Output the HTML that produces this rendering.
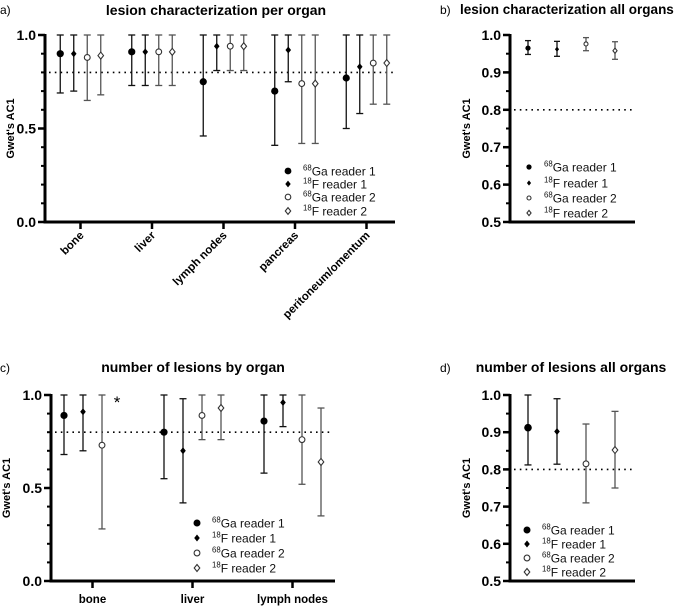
<!DOCTYPE html>
<html><head><meta charset="utf-8"><style>
body{margin:0;background:#fff;width:685px;height:608px;overflow:hidden}
svg{font-family:"Liberation Sans",Arial,sans-serif}
</style></head><body>
<svg id="s" width="685" height="608" viewBox="0 0 685 608" xmlns="http://www.w3.org/2000/svg"></svg>
<script>
// Panel a data
const catsA=["bone","liver","lymph nodes","pancreas","peritoneum/omentum"];
const valA=[[0.90,0.90,0.88,0.89],[0.91,0.91,0.91,0.91],[0.75,0.94,0.94,0.94],[0.70,0.92,0.74,0.74],[0.77,0.83,0.85,0.85]];
const loA=[[0.69,0.70,0.65,0.68],[0.73,0.73,0.73,0.73],[0.46,0.81,0.81,0.81],[0.41,0.75,0.42,0.42],[0.50,0.58,0.63,0.63]];
const hiA=[[1,1,1,1],[1,1,1,1],[1,1,1,1],[1,1,1,1],[1,1,1,1]];
// Panel b data
const valB=[0.965,0.962,0.976,0.958];
const loB=[0.948,0.943,0.958,0.935];
const hiB=[0.985,0.983,0.993,0.982];
// Panel c data
const catsC=["bone","liver","lymph nodes"];
const valC=[[0.89,0.91,0.73,null],[0.80,0.70,0.89,0.93],[0.86,0.96,0.76,0.64]];
const loC=[[0.68,0.70,0.28,null],[0.55,0.42,0.76,0.76],[0.58,0.83,0.52,0.35]];
const hiC=[[1,1,1,null],[1,0.98,1,1],[1,1,1,0.93]];
// Panel d data
const valD=[0.912,0.902,0.815,0.852];
const loD=[0.812,0.814,0.710,0.750];
const hiD=[1.0,0.99,0.922,0.956];
const seriesNames=["68Ga reader 1","18F reader 1","68Ga reader 2","18F reader 2"];
const yTicksA=["0.0","0.5","1.0"];
const yTicksB=["0.5","0.6","0.7","0.8","0.9","1.0"];

const S=document.getElementById('s');const NS="http://www.w3.org/2000/svg";
function mk(t,a,p){const e=document.createElementNS(NS,t);for(const k in a)e.setAttribute(k,a[k]);(p||S).appendChild(e);return e;}
function txt(x,y,s,a,p){const e=mk('text',Object.assign({x:x,y:y},a),p);e.textContent=s;return e;}
function marker(g,i,x,y,r){
  if(i==0){const m=mk('circle',{cx:x,cy:y,r:r,fill:'#000'},g);}
  else if(i==1){const m=mk('path',{d:`M${x} ${y-r}L${x+r*0.8} ${y}L${x} ${y+r}L${x-r*0.8} ${y}Z`,fill:'#000'},g);}
  else if(i==2){const m=mk('circle',{cx:x,cy:y,r:r-0.6,fill:'#fff',stroke:'#333','stroke-width':1.1},g);}
  else {const m=mk('path',{d:`M${x} ${y-r}L${x+r*0.8} ${y}L${x} ${y+r}L${x-r*0.8} ${y}Z`,fill:'#fff',stroke:'#333','stroke-width':1.1},g);}
}
function errbar(g,x,yl,yh,col,cap){
  mk('line',{x1:x,x2:x,y1:yl,y2:yh,stroke:col,'stroke-width':1.3},g);
  mk('line',{x1:x-cap,x2:x+cap,y1:yh,y2:yh,stroke:col,'stroke-width':1.3},g);
  mk('line',{x1:x-cap,x2:x+cap,y1:yl,y2:yl,stroke:col,'stroke-width':1.3},g);
}
function legend(g,x,ys,r,fs){
  seriesNames.forEach((n,i)=>{const y=ys[i];const it=mk('g',{},g);
    
    marker(it,i,x,y,r);
    const iso=n.startsWith('68')?'68':'18';const rest=n.slice(2);
    const t=mk('text',{x:x+15,y:y+4.5,'font-size':fs,fill:'#111'},it);
    const a=mk('tspan',{'font-size':fs*0.65,dy:-5},t);a.textContent=iso;
    const b=mk('tspan',{dy:5},t);b.textContent=rest;});
}
function axesY(g,x0,x1,yTop,yBot,vmin,vmax,labels,minorStep,ylabX){
  const Y=v=>yBot-(v-vmin)/(vmax-vmin)*(yBot-yTop);
  mk('line',{x1:x0,x2:x0,y1:yTop-1,y2:yBot+1.5,stroke:'#000','stroke-width':3},g);
  mk('line',{x1:x0-1.5,x2:x1,y1:yBot,y2:yBot,stroke:'#000','stroke-width':3},g);
  for(let v=vmin;v<=vmax+1e-9;v+=minorStep){mk('line',{x1:x0-4,x2:x0,y1:Y(v),y2:Y(v),stroke:'#000','stroke-width':2},g);}
  labels.forEach(l=>{const v=parseFloat(l);mk('line',{x1:x0-7,x2:x0,y1:Y(v),y2:Y(v),stroke:'#000','stroke-width':2.5},g);
    const t=txt(x0-9,Y(v)+5,l,{'font-size':14,'font-weight':'bold','text-anchor':'end'},g);});
  const yl=txt(0,0,"Gwet's AC1",{'font-size':11,'font-weight':'bold','text-anchor':'middle',transform:`translate(${ylabX},${(yTop+yBot)/2}) rotate(-90)`},g);
  
  const th=mk('line',{x1:x0+4,x2:x1-2,y1:Y(0.8),y2:Y(0.8),stroke:'#000','stroke-width':1.6,'stroke-dasharray':'1.6 4.2'},g);
  
  return Y;
}
const cols=['#111','#111','#555','#555'];
// Panel a
(function(){const g=mk('g',{});
  txt(0,14,'a)',{'font-size':12},g);
  const t=txt(216,15,'lesion characterization per organ',{'font-size':14,'font-weight':'bold','text-anchor':'middle'},g);
  const Y=axesY(g,45,395,35,222,0,1,yTicksA,0.1,14);
  const X=i=>80.5+i*71.5;
  catsA.forEach((c,i)=>{const cx=X(i);mk('line',{x1:cx,x2:cx,y1:222,y2:229,stroke:'#000','stroke-width':2.5},g);
    const l=txt(0,0,c,{'font-size':11.5,'font-weight':'bold','text-anchor':'end',transform:`translate(${cx+4},${236}) rotate(-45)`},g);
    for(let s=0;s<4;s++){const x=cx+(s-1.5)*13.5;const pg=mk('g',{},g);
      errbar(pg,x,Y(loA[i][s]),Y(hiA[i][s]),cols[s],3.5);marker(pg,s,x,Y(valA[i][s]),s==0?3.6:3.5);}});
  legend(g,288,[171,184,197,211],3.4,12);
})();
// Panel b
(function(){const g=mk('g',{});
  txt(440,14,'b)',{'font-size':12},g);
  const t=txt(460,14,'lesion characterization all organs',{'font-size':13.5,'font-weight':'bold'},g);
  const Y=axesY(g,510,635,35,222,0.5,1,yTicksB,0.05,470);
  valB.forEach((v,s)=>{const x=528+s*29;const pg=mk('g',{},g);
    errbar(pg,x,Y(loB[s]),Y(hiB[s]),cols[s],3);marker(pg,s,x,Y(v),2.6);});
  legend(g,529,[167,183,198,213],2.6,12);
})();
// Panel c
(function(){const g=mk('g',{});
  txt(0,372,'c)',{'font-size':12},g);
  const t=txt(193,372,'number of lesions by organ',{'font-size':14,'font-weight':'bold','text-anchor':'middle'},g);
  const Y=axesY(g,51,335,395,581,0,1,yTicksA,0.1,10);
  const X=i=>92.5+i*100;
  catsC.forEach((c,i)=>{const cx=X(i);mk('line',{x1:cx,x2:cx,y1:581,y2:588,stroke:'#000','stroke-width':2.5},g);
    const l=txt(cx,603,c,{'font-size':11.5,'font-weight':'bold','text-anchor':'middle'},g);
    for(let s=0;s<4;s++){if(valC[i][s]==null)continue;const x=cx+(s-1.5)*19;const pg=mk('g',{},g);
      errbar(pg,x,Y(loC[i][s]),Y(hiC[i][s]),cols[s],3.5);marker(pg,s,x,Y(valC[i][s]),s==0?3.6:3.5);}});
  const st=txt(117,408,'*',{'font-size':17,'text-anchor':'middle'},g);
  legend(g,197,[523,538,553,568],3.5,12);
})();
// Panel d
(function(){const g=mk('g',{});
  txt(440,372,'d)',{'font-size':12},g);
  const t=txt(571,372,'number of lesions all organs',{'font-size':14,'font-weight':'bold','text-anchor':'middle'},g);
  const Y=axesY(g,510,635,395,581,0.5,1,yTicksB,0.05,470);
  valD.forEach((v,s)=>{const x=528+s*29;const pg=mk('g',{},g);
    errbar(pg,x,Y(loD[s]),Y(hiD[s]),cols[s],3.5);marker(pg,s,x,Y(v),s==0?3.8:3.5);});
  legend(g,527,[530,544,558,572],3.5,12);
})();
</script>
</body></html>
